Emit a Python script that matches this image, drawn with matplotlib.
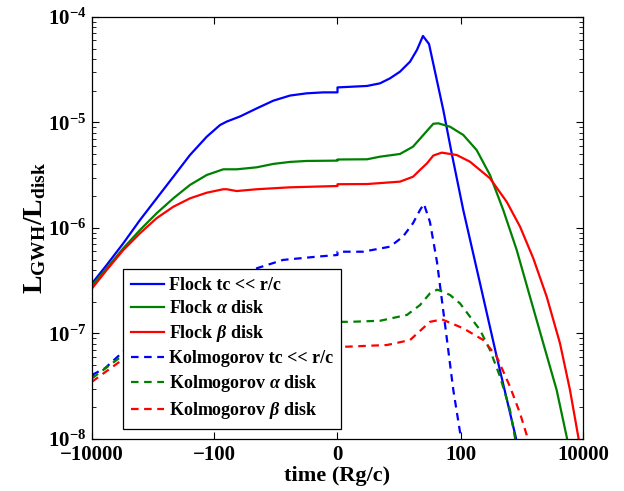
import numpy as np
import matplotlib.pyplot as plt
from matplotlib.ticker import FixedLocator, FixedFormatter, LogLocator, NullLocator

plt.rcParams['font.family'] = 'Liberation Serif'
plt.rcParams['font.weight'] = 'bold'
plt.rcParams['mathtext.fontset'] = 'custom'
plt.rcParams['mathtext.rm'] = 'Liberation Serif:bold'
plt.rcParams['mathtext.bf'] = 'Liberation Serif:bold'
plt.rcParams['mathtext.it'] = 'Liberation Serif:italic'

# time in Rg/c, luminosity ratio L_GWH / L_disk
t_flock_tc = [-10000, -5760, -3089, -1651, -882, -472, -252, -134, -81.0, -62.8, -37.8, -19.7, -10.1,
              -4.94, -2.18, -0.70, 0,
              0, 2.03, 3.92, 6.16, 9.42, 14.2, 18.7, 23.7, 30.0, 52.0, 71.6, 111, 209, 392, 808, 1000]
L_flock_tc = [2.98e-7, 4.46e-7, 7.16e-7, 1.19e-6, 1.91e-6, 3.06e-6, 4.92e-6, 7.33e-6, 9.46e-6, 1.02e-5, 1.14e-5, 1.36e-5, 1.61e-5,
              1.80e-5, 1.89e-5, 1.93e-5, 1.93e-5,
              2.15e-5, 2.22e-5, 2.35e-5, 2.62e-5, 3.03e-5, 3.77e-5, 4.87e-5, 6.61e-5, 5.54e-5, 1.31e-5, 5.10e-6, 1.48e-6, 2.99e-7, 6.03e-8, 1.02e-8, 6.05e-9]

t_flock_a = [-10000, -5760, -3089, -1651, -882, -472, -252, -134, -71.6, -42.9, -19.7, -10.1, -4.94, -2.18, 0,
             0, 2.03, 3.92, 9.42, 16.0, 25.7, 35.4, 42.9, 67.1, 111, 184, 304, 501, 831, 1367, 2253, 3723, 5419, 7000]
L_flock_a = [2.85e-7, 4.15e-7, 6.43e-7, 9.57e-7, 1.38e-6, 1.91e-6, 2.56e-6, 3.18e-6, 3.60e-6, 3.60e-6, 3.76e-6, 4.05e-6, 4.23e-6, 4.32e-6, 4.35e-6,
             4.46e-6, 4.48e-6, 4.74e-6, 5.03e-6, 5.90e-6, 7.94e-6, 9.73e-6, 9.82e-6, 9.12e-6, 7.62e-6, 5.48e-6, 3.18e-6, 1.48e-6, 6.18e-7, 2.23e-7, 8.07e-8, 2.91e-8, 1.05e-8, 5.3e-9]

t_flock_b = [-10000, -5760, -3089, -1651, -882, -472, -252, -134, -71.6, -62.8, -42.9, -19.7, -4.94, 0,
             0, 2.03, 9.42, 16.0, 21.1, 27.7, 35.4, 48.9, 86.5, 143, 304, 571, 941, 1548, 2563, 4216, 6137, 8374, 10000]
L_flock_b = [2.67e-7, 4.00e-7, 6.18e-7, 8.91e-7, 1.24e-6, 1.59e-6, 1.91e-6, 2.16e-6, 2.33e-6, 2.33e-6, 2.24e-6, 2.33e-6, 2.43e-6, 2.50e-6,
             2.60e-6, 2.61e-6, 2.75e-6, 3.06e-6, 3.55e-6, 4.10e-6, 4.86e-6, 5.18e-6, 4.92e-6, 4.25e-6, 2.96e-6, 1.77e-6, 1.03e-6, 5.16e-7, 2.23e-7, 8.07e-8, 2.91e-8, 1.05e-8, 5.9e-9]

t_kolm_tc = [-10000, -6137, -3242, -779, -172.8, -64.6, -19.7, -6.73, -1.16, 0,
             0, 1.60, 6.16, 10.67, 16.0, 21.1, 24.6, 31.1, 40.8, 57.6, 76.1, 101.8, 111]
L_kolm_tc = [4.05e-8, 4.68e-8, 6.58e-8, 1.29e-7, 2.22e-7, 3.01e-7, 4.15e-7, 4.98e-7, 5.35e-7, 5.55e-7,
             5.96e-7, 5.96e-7, 6.65e-7, 8.28e-7, 1.11e-6, 1.48e-6, 1.69e-6, 1.14e-6, 4.76e-7, 1.03e-7, 2.91e-8, 1.02e-8, 7.5e-9]

t_kolm_a = [-10000, -3242, -1051, -304.5, -64.6, -21.1, -0.93, 0,
            0, 0.60, 3.92, 12.55, 21.1, 31.1, 40.8, 45.8, 67.1, 98, 209, 304, 444, 646, 780, 872]
L_kolm_a = [3.76e-8, 6.12e-8, 8.49e-8, 1.06e-7, 1.19e-7, 1.20e-7, 1.26e-7, 1.26e-7,
            1.29e-7, 1.29e-7, 1.32e-7, 1.50e-7, 1.86e-7, 2.40e-7, 2.60e-7, 2.55e-7, 2.32e-7, 1.93e-7, 1.08e-7, 6.98e-8, 3.90e-8, 1.88e-8, 1.02e-8, 7.0e-9]

t_kolm_b = [-10000, -3242, -1051, -304.5, -64.6, 0,
            0, 0.43, 5.40, 14.2, 31.1, 49.5, 111, 237, 392, 646, 941, 1210, 1367]
L_kolm_b = [3.49e-8, 5.61e-8, 6.68e-8, 7.13e-8, 7.29e-8, 7.40e-8,
            7.53e-8, 7.50e-8, 7.78e-8, 8.67e-8, 1.29e-7, 1.36e-7, 1.12e-7, 8.67e-8, 6.03e-8, 3.13e-8, 1.75e-8, 1.09e-8, 8.4e-9]

labels = ['Flock tc << r/c', r'Flock $\alpha$ disk', r'Flock $\beta$ disk',
          'Kolmogorov tc << r/c', r'Kolmogorov $\alpha$ disk', r'Kolmogorov $\beta$ disk']
colors = ['#0000ff', '#008000', '#ff0000']

xticks = [-10000, -100, 0, 100, 10000]
xticklabels = ['\u221210000', '\u2212100', '0', '100', '10000']


def fwd(t):
    t = np.asarray(t, dtype=float)
    return np.sign(t) * np.log10(1 + np.abs(t))


def inv(u):
    u = np.asarray(u, dtype=float)
    return np.sign(u) * (10 ** np.abs(u) - 1)


fig = plt.figure(figsize=(6.24, 4.91), dpi=100)
ax = fig.add_axes([0.1474, 0.1059, 0.7869, 0.8595])

ax.set_xscale('function', functions=(fwd, inv))
ax.set_yscale('log')

solid = [(t_flock_tc, L_flock_tc), (t_flock_a, L_flock_a), (t_flock_b, L_flock_b)]
dashed = [(t_kolm_tc, L_kolm_tc), (t_kolm_a, L_kolm_a), (t_kolm_b, L_kolm_b)]

for (t, L), c, lab in zip(solid, colors, labels[:3]):
    ax.plot(t, L, color=c, lw=1.6, label=lab)
for (t, L), c, lab in zip(dashed, colors, labels[3:]):
    ax.plot(t, L, color=c, lw=1.6, ls='--', dashes=(3.4, 2.5), label=lab)

ax.set_xlim(-10000, 10000)
ax.set_ylim(1e-8, 1e-4)

ax.xaxis.set_major_locator(FixedLocator(xticks))
ax.xaxis.set_major_formatter(FixedFormatter(xticklabels))
ax.xaxis.set_minor_locator(NullLocator())
ax.yaxis.set_major_locator(LogLocator(base=10))
ax.yaxis.set_minor_locator(LogLocator(base=10, subs=np.arange(2, 10)))

ax.tick_params(which='both', direction='in', top=True, right=True, labelsize=15)
ax.tick_params(which='major', length=5, width=0.8, pad=4)
ax.tick_params(which='minor', length=3, width=0.6)
for s in ax.spines.values():
    s.set_linewidth(0.9)

ax.set_xlabel('time (Rg/c)', fontsize=16, fontweight='bold', labelpad=1)
ax.set_ylabel(r'$\mathbf{L_{GWH}/L_{disk}}$', fontsize=20, labelpad=0)

leg = ax.legend(loc='upper left', bbox_to_anchor=(0.063, 0.403), fontsize=13,
                frameon=True, fancybox=False, framealpha=1, edgecolor='black',
                handlelength=1.8, handletextpad=0.3, labelspacing=0.33, borderpad=0.45,
                borderaxespad=0)
leg.get_frame().set_linewidth(0.9)

fig.savefig('out.png', dpi=100)
